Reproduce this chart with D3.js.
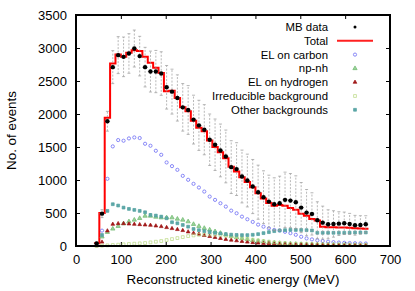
<!DOCTYPE html>
<html>
<head>
<meta charset="utf-8">
<script src="https://cdn.jsdelivr.net/npm/d3@7"></script>
<style>
  body { margin: 0; background: #fff; }
  svg { display: block; }
</style>
</head>
<body>
<div id="chart"></div>
<script>
// bin centres (MeV), 12 MeV bins
const energy = [46,58,70,82,94,106,118,130,142,154,166,178,190,202,214,226,238,250,262,274,286,298,310,322,334,346,358,370,382,394,406,418,430,442,454,466,478,490,502,514,526,538,550,562,574,586,598,610,622,634,646];
const binWidth = 12;

const mbData = [40,490,1890,2710,2892,2866,2917,2992,2877,2710, 2643,2643,2613,2405,2339,2243,2101,2061,1915,1828, 1762,1610,1534,1448,1357,1195,1165,1053,992,901, 815,739,673,633,648,699,688,663,582,506, 486,390,354,329,334,339,344,334,314,319,329];
const mbErr = [20,60,150,250,280,300,300,280,300,300, 310,320,330,330,340,350,360,370,370,380, 380,390,390,400,400,400,400,400,400,410, 410,400,400,400,410,420,410,400,380,350, 320,280,250,220,200,180,170,160,150,140,130];
const total = [40,500,1945,2765,2902,2866,2927,2967,2953,2866, 2775,2699,2623,2344,2354,2243,2101,2040,1899,1790, 1740,1600,1500,1420,1330,1200,1130,1040,970,890, 800,720,650,610,620,610,575,550,490,460, 410,385,290,285,285,280,280,275,270,265,260];
const elCarbon = [10,233,1018,1509,1605,1595,1630,1645,1636,1549, 1519,1443,1382,1266,1210,1154,1063,1003,942,886, 825,749,699,648,597,536,496,445,405,365, 324,293,268,243,235,215,195,170,140,115, 100,85,75,65,58,52,48,45,42,40,38];
const npnh = [15,140,210,260,300,340,370,395,420,455, 455,440,430,430,430,410,395,370,330,300, 270,245,220,195,170,150,130,115,100,85, 75,65,55,48,42,37,33,30,27,25, 22,20,18,17,16,15,14,13,12,11,10];
const elHydrogen = [5,60,230,330,340,340,335,330,325,320, 315,305,295,280,265,250,235,215,195,180, 160,145,130,115,100,90,80,70,60,52, 45,40,35,30,27,25,22,20,19,18, 17,16,15,14,13,12,12,11,11,10,10];
const irreducible = [0,5,10,15,20,25,30,35,40,45, 55,65,75,90,105,120,135,150,160,170, 175,175,170,165,155,145,135,120,110,95, 85,75,65,55,48,42,37,33,30,28, 26,24,22,20,19,18,17,16,15,15,15];
const otherBkg = [20,167,532,633,613,582,562,547,532,511, 471,461,445,420,360,344,319,293,258,240, 225,210,200,190,180,172,168,165,165,170, 180,195,210,225,235,240,245,243,243,240, 235,200,200,200,200,200,200,202,204,205,205];

const xTicks = [0,100,200,300,400,500,600,700];
const yTicks = [0,500,1000,1500,2000,2500,3000,3500];
const legendLabels = ["MB data","Total","EL on carbon","np-nh","EL on hydrogen","Irreducible background","Other backgrounds"];

const W = 415, H = 291;
const margin = { top: 15, right: 25, bottom: 45, left: 76 };
const font = "'Liberation Sans', Arial, sans-serif";

const svg = d3.select("#chart").append("svg").attr("width", W).attr("height", H);

const x = d3.scaleLinear().domain([0, 700]).range([margin.left, W - margin.right]);
const y = d3.scaleLinear().domain([0, 3500]).range([H - margin.bottom, margin.top]);

const styleAxis = (g) => {
  g.select(".domain").remove();
  g.selectAll("line").attr("stroke", "#000").attr("stroke-width", 1);
  g.selectAll("text").attr("font-family", font).attr("font-size", 13).attr("fill", "#000");
};

// axes with inward ticks on all four sides
svg.append("g").attr("transform", `translate(0,${y(0)})`)
  .call(d3.axisBottom(x).tickValues(xTicks).tickSize(-4).tickPadding(9).tickFormat(d3.format("d"))).call(styleAxis);
svg.append("g").attr("transform", `translate(0,${y(3500)})`)
  .call(d3.axisTop(x).tickValues(xTicks).tickSize(-4).tickFormat("")).call(styleAxis);
svg.append("g").attr("transform", `translate(${x(0)},0)`)
  .call(d3.axisLeft(y).tickValues(yTicks).tickSize(-4).tickPadding(9).tickFormat(d3.format("d"))).call(styleAxis);
svg.append("g").attr("transform", `translate(${x(700)},0)`)
  .call(d3.axisRight(y).tickValues(yTicks).tickSize(-4).tickFormat("")).call(styleAxis);

// Total histogram as a step line over bin edges
const steps = energy.map((e, i) => [e - binWidth / 2, total[i]]);
steps.push([energy[energy.length - 1] + binWidth / 2, total[total.length - 1]]);
svg.append("path")
  .datum(steps)
  .attr("fill", "none")
  .attr("stroke", "#ff0000")
  .attr("stroke-width", 2)
  .attr("d", d3.line().x((d) => x(d[0])).y((d) => y(d[1])).curve(d3.curveStepAfter));

const sym = (type, size) => d3.symbol().type(type).size(size)();

const series = [
  { vals: elCarbon, kind: "circle", stroke: "#7b7bf5", fill: "none" },
  { vals: npnh, kind: d3.symbolTriangle, size: 8, stroke: "#6db86d", fill: "#9ad29a" },
  { vals: elHydrogen, kind: d3.symbolTriangle, size: 6, stroke: "#a01818", fill: "#a01818" },
  { vals: irreducible, kind: d3.symbolSquare, size: 8, stroke: "#b8d880", fill: "none" },
  { vals: otherBkg, kind: d3.symbolSquare, size: 8, stroke: "#52a0a0", fill: "#5ea8a8" },
];

const drawMarker = (g, s, cx, cy) => {
  if (s.kind === "circle") {
    g.append("circle").attr("cx", cx).attr("cy", cy).attr("r", 1.6)
      .attr("fill", "none").attr("stroke", s.stroke).attr("stroke-width", 0.9);
  } else {
    g.append("path").attr("d", sym(s.kind, s.size))
      .attr("transform", `translate(${cx},${cy})`)
      .attr("fill", s.fill).attr("stroke", s.stroke).attr("stroke-width", 0.7);
  }
};

series.forEach((s) => {
  const g = svg.append("g");
  s.vals.forEach((v, i) => drawMarker(g, s, x(energy[i]), y(v)));
});

// data error bars (grey dashed) and points
const eb = svg.append("g").attr("stroke", "#9a9a9a").attr("stroke-width", 0.7);
energy.forEach((e, i) => {
  const cx = x(e);
  const lo = y(Math.max(0, mbData[i] - mbErr[i]));
  const hi = y(mbData[i] + mbErr[i]);
  eb.append("line").attr("x1", cx).attr("x2", cx).attr("y1", lo).attr("y2", hi)
    .attr("stroke-dasharray", "2,1.5");
  eb.append("line").attr("x1", cx - 1.5).attr("x2", cx + 1.5).attr("y1", lo).attr("y2", lo);
  eb.append("line").attr("x1", cx - 1.5).attr("x2", cx + 1.5).attr("y1", hi).attr("y2", hi);
  eb.append("line").attr("x1", x(e - binWidth / 2)).attr("x2", x(e + binWidth / 2))
    .attr("y1", y(mbData[i])).attr("y2", y(mbData[i])).attr("stroke-dasharray", "2,1.5");
});

svg.append("g").selectAll("circle").data(mbData).join("circle")
  .attr("cx", (d, i) => x(energy[i]))
  .attr("cy", (d) => y(d))
  .attr("r", 2.2)
  .attr("fill", "#000");

// frame
svg.append("rect")
  .attr("x", x(0)).attr("y", y(3500))
  .attr("width", x(700) - x(0)).attr("height", y(0) - y(3500))
  .attr("fill", "none").attr("stroke", "#000").attr("stroke-width", 2);

// legend
const leg = svg.append("g");
legendLabels.forEach((lab, i) => {
  const ly = 27 + i * 13.8;
  leg.append("text").attr("x", 328).attr("y", ly).attr("dy", "0.35em")
    .attr("text-anchor", "end").attr("font-family", font).attr("font-size", 11.4)
    .attr("fill", "#000").text(lab);
  if (i === 0) {
    leg.append("circle").attr("cx", 355).attr("cy", ly).attr("r", 1.5).attr("fill", "#000");
  } else if (i === 1) {
    leg.append("line").attr("x1", 337).attr("x2", 373).attr("y1", ly).attr("y2", ly)
      .attr("stroke", "#ff2020").attr("stroke-width", 2);
  } else {
    drawMarker(leg, series[i - 2], 355, ly);
  }
});

// axis titles
svg.append("text")
  .attr("x", (x(0) + x(700)) / 2).attr("y", 284)
  .attr("text-anchor", "middle").attr("font-family", font).attr("font-size", 13.4)
  .text("Reconstructed kinetic energy (MeV)");
svg.append("text")
  .attr("transform", `translate(16,${(y(0) + y(3500)) / 2}) rotate(-90)`)
  .attr("text-anchor", "middle").attr("font-family", font).attr("font-size", 13.4)
  .text("No. of events");
</script>
</body>
</html>
